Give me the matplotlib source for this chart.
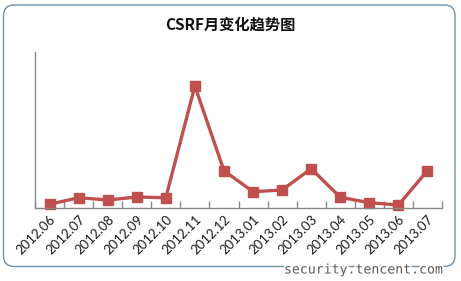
import matplotlib
matplotlib.use("Agg")
import matplotlib.pyplot as plt
from matplotlib.patches import FancyBboxPatch
import matplotlib.patheffects as pe
import numpy as np

months = ["2012.06", "2012.07", "2012.08", "2012.09", "2012.10", "2012.11", "2012.12",
          "2013.01", "2013.02", "2013.03", "2013.04", "2013.05", "2013.06", "2013.07"]
values = [3.7, 10.3, 8.0, 11.0, 10.3, 122.0, 37.3, 16.3, 18.0, 39.3, 10.7, 5.3, 3.0, 37.3]
title = "CSRF月变化趋势图"
watermark = "security.tencent.com"

W, H = 461, 281
fig = plt.figure(figsize=(W / 100, H / 100), dpi=100)
fig.patch.set_facecolor("white")

# rounded border
border = FancyBboxPatch((3.5 / W, 1 - 266.5 / H), (455 - 3.5) / W, (266.5 - 5) / H,
                        boxstyle="round,pad=0,rounding_size=0.023",
                        transform=fig.transFigure, facecolor="none",
                        edgecolor="#6f8fa6", linewidth=1.0, mutation_aspect=W / H,
                        zorder=0)
fig.patches.append(border)

ax = fig.add_axes([35 / W, 1 - 208 / H, (442 - 35) / W, (208 - 52) / H])
ax.set_facecolor("none")
x = np.arange(len(months))
ax.plot(x, values, color="#C0504D", linewidth=2.4, marker="s", markersize=7.5,
        markerfacecolor="#C0504D", markeredgecolor="#C0504D", solid_joinstyle="round",
        clip_on=False)

ax.set_xlim(-0.5, len(months) - 0.5)
ax.set_ylim(0, 156)
ax.set_yticks([])
ax.set_xticks(x)
ax.set_xticklabels(months, rotation=45, ha="right", rotation_mode="anchor",
                   fontsize=9.5, family=["Lato", "DejaVu Sans"], color="#1a1a1a")
ax.tick_params(axis="x", which="major", length=0, pad=4)
ax.set_xticks(np.arange(-0.5, len(months) + 0.5, 1), minor=True)
ax.tick_params(axis="x", which="minor", direction="in", length=5, color="#888888", width=1)
for s in ["top", "right"]:
    ax.spines[s].set_visible(False)
for s in ["left", "bottom"]:
    ax.spines[s].set_color("#888888")
    ax.spines[s].set_linewidth(1.0)

fig.text(230 / W, 1 - 25 / H, title, ha="center", va="center", fontsize=11,
         fontweight="bold", family=["Noto Sans CJK SC", "DejaVu Sans"], color="#111111")

fig.text(364 / W, 1 - 270 / H, watermark, ha="center", va="center", fontsize=9.5,
         family="DejaVu Sans Mono", color="#5a5a5a",
         path_effects=[pe.withStroke(linewidth=2.5, foreground="white")])

fig.savefig("out.png", dpi=100, facecolor="white")
